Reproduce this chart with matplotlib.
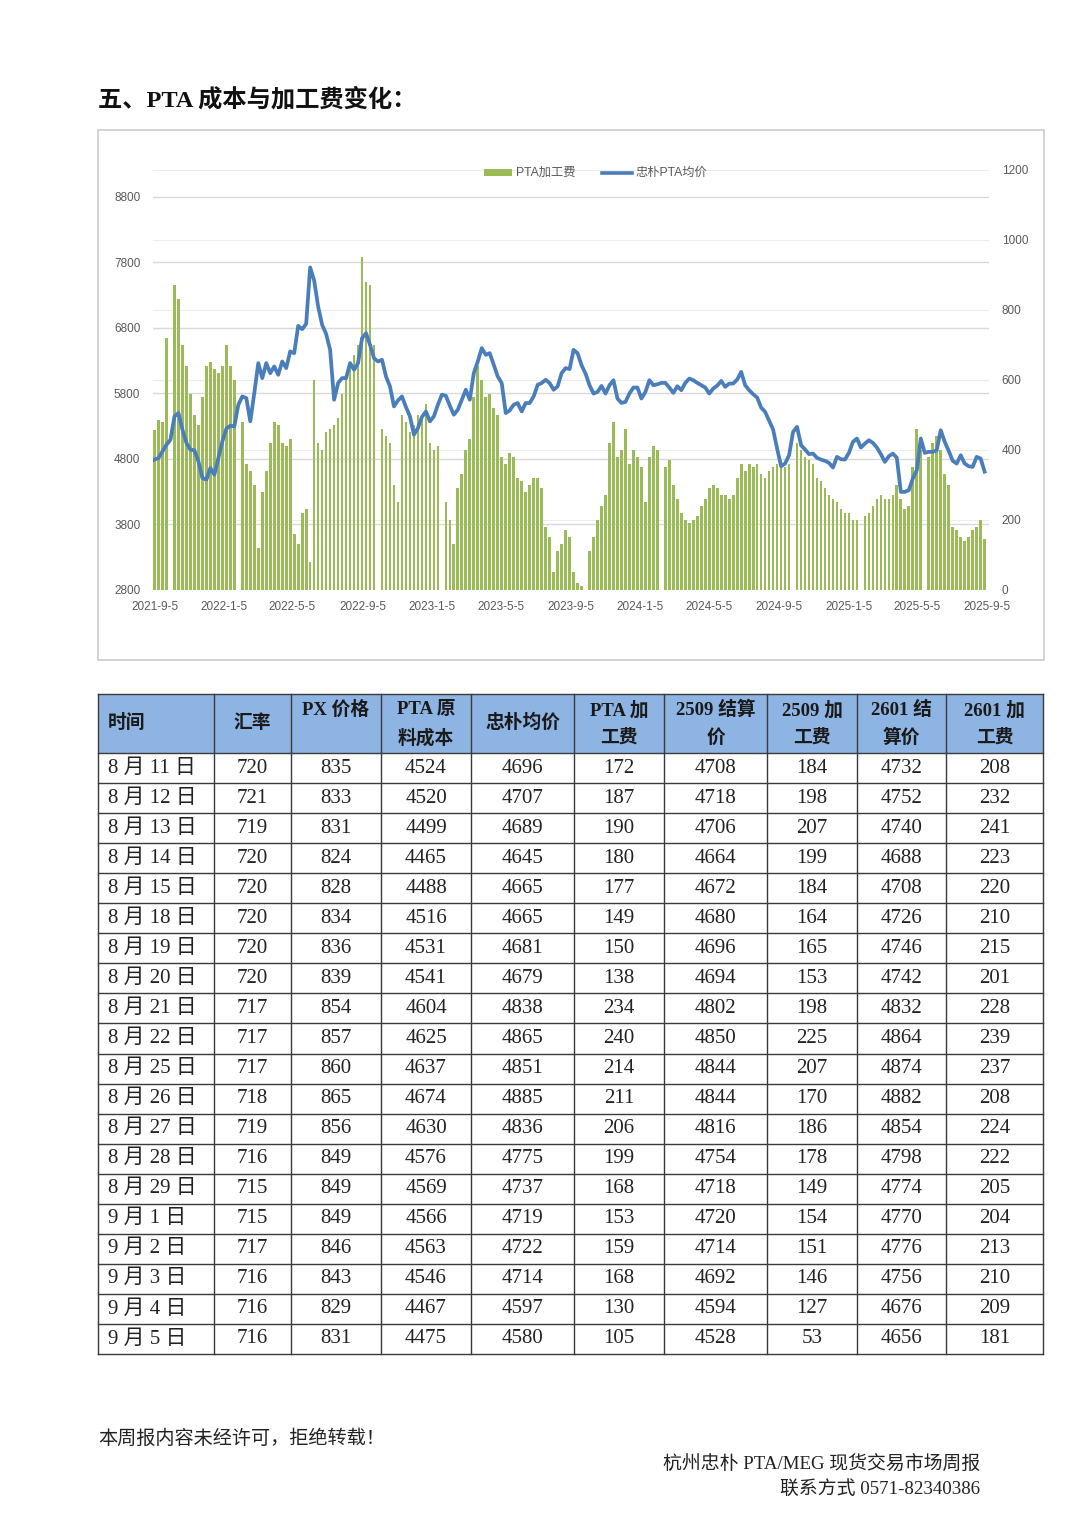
import pandas as pd
import matplotlib
matplotlib.use('Agg')
import matplotlib.pyplot as plt
from matplotlib.patches import Rectangle
from matplotlib.lines import Line2D

W, H, DPI = 1080, 1526, 100

# ---- chart data: weekly readings from 2021-9-5 ----
PRICE = [
    4783, 4809, 4910, 5012, 5088, 5444, 5495, 5241, 5037, 4936,
    4926, 4758, 4503, 4478, 4656, 4554, 4809, 5063, 5256, 5302,
    5292, 5622, 5749, 5724, 5368, 5800, 6258, 6029, 6258, 6105,
    6207, 6080, 6283, 6182, 6436, 6410, 6827, 6776, 6858, 7720,
    7520, 7122, 6843, 6705, 6461, 5698, 5953, 6029, 6029, 6258,
    6156, 6258, 6639, 6715, 6537, 6334, 6283, 6309, 6054, 5902,
    5597, 5688, 5749, 5587, 5444, 5165, 5266, 5434, 5520, 5368,
    5444, 5622, 5775, 5759, 5607, 5470, 5546, 5698, 5851, 5698,
    6105, 6283, 6487, 6385, 6410, 6232, 6054, 5953, 5495, 5536,
    5622, 5648, 5520, 5648, 5648, 5749, 5927, 5953, 6004, 5953,
    5851, 5902, 6105, 6182, 6167, 6461, 6410, 6226, 6098, 5920,
    5793, 5818, 5910, 5793, 5920, 5997, 5717, 5650, 5666, 5793,
    5885, 5885, 5717, 5818, 5997, 5920, 5935, 5956, 5956, 5885,
    5803, 5905, 5844, 5956, 6022, 5997, 5956, 5920, 5885, 5793,
    5869, 5915, 5986, 5895, 5946, 5946, 6007, 6124, 5920, 5844,
    5783, 5732, 5579, 5513, 5376, 5243, 4953, 4683, 4724, 4851,
    5208, 5284, 5004, 4938, 4867, 4877, 4811, 4785, 4765, 4734,
    4663, 4826, 4790, 4785, 4887, 5055, 5106, 4968, 5029, 5080,
    5040, 4968, 4867, 4749, 4836, 4877, 4811, 4291, 4291, 4317,
    4495, 4622, 5106, 4887, 4902, 4902, 4928, 5233, 5055, 4917,
    4765, 4724, 4851, 4724, 4683, 4673, 4826, 4800, 4600,
]
FEE = [
    457, 485, 480, 720, 0, 870, 830, 700, 640, 560,
    500, 470, 550, 640, 650, 630, 620, 640, 700, 640,
    600, 0, 480, 360, 340, 300, 120, 280, 340, 420,
    480, 470, 420, 410, 430, 160, 130, 220, 230, 80,
    600, 420, 400, 450, 460, 470, 490, 560, 610, 640,
    670, 700, 950, 880, 870, 700, 0, 460, 440, 420,
    300, 250, 500, 480, 450, 470, 500, 490, 530, 420,
    400, 410, 0, 250, 200, 130, 290, 330, 400, 430,
    550, 640, 600, 550, 560, 520, 500, 380, 360, 390,
    380, 320, 310, 280, 300, 320, 320, 290, 180, 150,
    50, 110, 130, 170, 150, 50, 20, 10, 0, 110,
    150, 200, 240, 270, 420, 480, 380, 400, 460, 360,
    400, 380, 350, 250, 380, 410, 400, 0, 350, 370,
    300, 260, 220, 200, 190, 200, 210, 240, 260, 290,
    300, 290, 270, 270, 260, 270, 320, 360, 340, 360,
    350, 360, 330, 320, 340, 350, 360, 370, 350, 360,
    0, 420, 400, 380, 370, 360, 320, 310, 290, 270,
    260, 250, 230, 220, 220, 200, 200, 0, 210, 220,
    240, 260, 270, 260, 260, 270, 300, 260, 230, 240,
    350, 460, 400, 0, 380, 420, 440, 400, 330, 300,
    180, 170, 150, 140, 150, 170, 180, 200, 145,
]
X_TICKS = ['2021-9-5', '2022-1-5', '2022-5-5', '2022-9-5', '2023-1-5',
           '2023-5-5', '2023-9-5', '2024-1-5', '2024-5-5', '2024-9-5',
           '2025-1-5', '2025-5-5', '2025-9-5']
LEFT_TICKS = [2800, 3800, 4800, 5800, 6800, 7800, 8800]
RIGHT_TICKS = [0, 200, 400, 600, 800, 1000, 1200]

# ---- table data ----
T_DATES = ['8 月 11 日', '8 月 12 日', '8 月 13 日', '8 月 14 日', '8 月 15 日',
           '8 月 18 日', '8 月 19 日', '8 月 20 日', '8 月 21 日', '8 月 22 日',
           '8 月 25 日', '8 月 26 日', '8 月 27 日', '8 月 28 日', '8 月 29 日',
           '9 月 1 日', '9 月 2 日', '9 月 3 日', '9 月 4 日', '9 月 5 日']
FX_RATE = [720, 721, 719, 720, 720, 720, 720, 720, 717, 717,
           717, 718, 719, 716, 715, 715, 717, 716, 716, 716]
PX_PRICE = [835, 833, 831, 824, 828, 834, 836, 839, 854, 857,
            860, 865, 856, 849, 849, 849, 846, 843, 829, 831]
PTA_COST = [4524, 4520, 4499, 4465, 4488, 4516, 4531, 4541, 4604, 4625,
            4637, 4674, 4630, 4576, 4569, 4566, 4563, 4546, 4467, 4475]
ZP_AVG = [4696, 4707, 4689, 4645, 4665, 4665, 4681, 4679, 4838, 4865,
          4851, 4885, 4836, 4775, 4737, 4719, 4722, 4714, 4597, 4580]
PTA_FEE = [172, 187, 190, 180, 177, 149, 150, 138, 234, 240,
           214, 211, 206, 199, 168, 153, 159, 168, 130, 105]
S2509_PRICE = [4708, 4718, 4706, 4664, 4672, 4680, 4696, 4694, 4802, 4850,
               4844, 4844, 4816, 4754, 4718, 4720, 4714, 4692, 4594, 4528]
S2509_FEE = [184, 198, 207, 199, 184, 164, 165, 153, 198, 225,
             207, 170, 186, 178, 149, 154, 151, 146, 127, 53]
S2601_PRICE = [4732, 4752, 4740, 4688, 4708, 4726, 4746, 4742, 4832, 4864,
               4874, 4882, 4854, 4798, 4774, 4770, 4776, 4756, 4676, 4656]
S2601_FEE = [208, 232, 241, 223, 220, 210, 215, 201, 228, 239,
             237, 208, 224, 222, 205, 204, 213, 210, 209, 181]
HEADERS = ['时间', '汇率', 'PX 价格', 'PTA 原\n料成本', '忠朴均价', 'PTA 加\n工费',
           '2509 结算\n价', '2509 加\n工费', '2601 结\n算价', '2601 加\n工费']

GREEN = '#9BBB59'
BLUE = '#4A7EBB'
GRAY = '#595959'
SERIF = ['Liberation Serif', 'Noto Sans CJK SC']
SANS = ['Liberation Sans', 'Noto Sans CJK SC']

plt.rcParams['font.family'] = SANS

fig = plt.figure(figsize=(W / DPI, H / DPI), dpi=DPI)
fig.patch.set_facecolor('white')

# ---- chart ----
dates = pd.date_range('2021-09-05', periods=len(PRICE), freq='7D')
tick_dates = pd.to_datetime(X_TICKS, format='%Y-%m-%d')
x_lo = tick_dates[0] - pd.Timedelta(days=3)
x_hi = tick_dates[-1] + pd.Timedelta(days=3)
px0, px1, py_bot, py_top = 152.8, 989.2, 589.5, 170.0
left_top = 2800 + (py_bot - py_top) / (py_bot - 196.7) * 6000

ax = fig.add_axes([px0 / W, 1 - py_bot / H, (px1 - px0) / W, (py_bot - py_top) / H])
ax2 = ax.twinx()

# bars (right axis, drawn underneath)
ax.set_xlim(x_lo, x_hi)
ax.set_ylim(0, 1200)
for v in RIGHT_TICKS[1:]:
    ax.axhline(v, color='#EDEDED', lw=0.8, zorder=0)
for v in LEFT_TICKS[1:]:
    ax.axhline((v - 2800) / (left_top - 2800) * 1200, color='#D9D9D9', lw=1.0, zorder=0)
ax.bar(dates, FEE, width=4.7, color=GREEN, linewidth=0, zorder=2)
ax.set_xticks(tick_dates)
ax.set_xticklabels(X_TICKS)
ax.tick_params(axis='x', length=0, pad=8, labelsize=8.5, labelcolor=GRAY)
ax.tick_params(axis='y', which='both', left=False, labelleft=False,
               right=False, labelright=True, length=0, pad=9,
               labelsize=8.5, labelcolor=GRAY)
ax.set_yticks(RIGHT_TICKS)
for s in ax.spines.values():
    s.set_visible(False)

# line (left axis, drawn on top)
ax2.set_ylim(2800, left_top)
ax2.plot(dates, PRICE, color=BLUE, lw=2.7, solid_joinstyle='round')
ax2.set_yticks(LEFT_TICKS)
ax2.tick_params(axis='y', which='both', left=False, labelleft=True,
                right=False, labelright=False, length=0, pad=9,
                labelsize=8.5, labelcolor=GRAY)
for s in ax2.spines.values():
    s.set_visible(False)

# ---- overlay in pixel coordinates ----
ov = fig.add_axes([0, 0, 1, 1])
ov.set_xlim(0, W)
ov.set_ylim(H, 0)
ov.axis('off')

ov.text(98, 100, '五、PTA 成本与加工费变化：', fontsize=17.5, weight='bold',
        family=SERIF, va='center', ha='left', color='#111111')

ov.add_patch(Rectangle((98, 130), 946, 530, fill=False, ec='#D0D0D0', lw=1.3))

# legend
ov.add_patch(Rectangle((484, 169), 28, 7, color=GREEN, lw=0))
ov.text(516, 172.5, 'PTA加工费', fontsize=8.8, color=GRAY, va='center', ha='left')
ov.add_line(Line2D([602, 632], [172.5, 172.5], color=BLUE, lw=2.6))
ov.text(636, 172.5, '忠朴PTA均价', fontsize=8.8, color=GRAY, va='center', ha='left')

# ---- table ----
col_x = [98, 214, 291, 381, 471, 574, 664, 767, 857, 946, 1043]
head_top, head_bot = 694, 753
row_h = 30.05
n_rows = len(T_DATES)
tab_bot = head_bot + row_h * n_rows

ov.add_patch(Rectangle((col_x[0], head_top), col_x[-1] - col_x[0], head_bot - head_top,
                       color='#8DB4E2', lw=0))
line_kw = dict(color='#3A3A3A', lw=1.0)
for x in col_x:
    ov.add_line(Line2D([x, x], [head_top, tab_bot], **line_kw))
ov.add_line(Line2D([col_x[0], col_x[-1]], [head_top, head_top], **line_kw))
for i in range(n_rows + 1):
    y = head_bot + row_h * i
    ov.add_line(Line2D([col_x[0], col_x[-1]], [y, y], **line_kw))

for j, h in enumerate(HEADERS):
    cx = (col_x[j] + col_x[j + 1]) / 2
    lines = h.split('\n')
    if j == 0:
        ov.text(108, 723, h, fontsize=13.5, weight='bold', family=SERIF,
                va='center', ha='left', color='#1A1A1A')
    elif h == 'PX 价格':
        ov.text(cx, 710, h, fontsize=13.5, weight='bold', family=SERIF,
                va='center', ha='center', color='#1A1A1A')
    elif len(lines) == 1:
        ov.text(cx, 723, h, fontsize=13.5, weight='bold', family=SERIF,
                va='center', ha='center', color='#1A1A1A')
    else:
        for k, ln in enumerate(lines):
            ov.text(cx, 710 + 28 * k, ln, fontsize=13.5, weight='bold', family=SERIF,
                    va='center', ha='center', color='#1A1A1A')

columns = [FX_RATE, PX_PRICE, PTA_COST, ZP_AVG, PTA_FEE,
           S2509_PRICE, S2509_FEE, S2601_PRICE, S2601_FEE]
for i in range(n_rows):
    y = head_bot + row_h * (i + 0.5)
    ov.text(108, y, T_DATES[i], fontsize=15, family=SERIF, va='center',
            ha='left', color='#222222')
    for j, col in enumerate(columns):
        cx = (col_x[j + 1] + col_x[j + 2]) / 2
        ov.text(cx, y, str(col[i]), fontsize=15, family=SERIF, va='center',
                ha='center', color='#222222')

# ---- footer ----
ov.text(98, 1439, '本周报内容未经许可，拒绝转载！', fontsize=13.8, family=SERIF,
        va='center', ha='left', color='#222222')
ov.text(980, 1464, '杭州忠朴 PTA/MEG 现货交易市场周报', fontsize=13.6, family=SERIF,
        va='center', ha='right', color='#222222')
ov.text(980, 1489, '联系方式 0571-82340386', fontsize=13.6, family=SERIF,
        va='center', ha='right', color='#222222')

fig.savefig('out.png', dpi=DPI, facecolor='white')
